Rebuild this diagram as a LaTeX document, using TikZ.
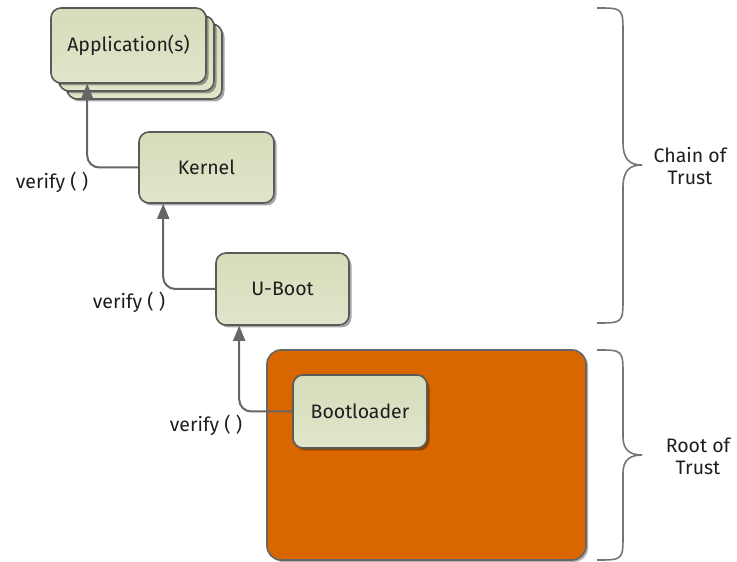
\documentclass[tikz,border=0pt]{standalone}
\usepackage{fontspec}
\setmainfont{Fira Sans}
\usetikzlibrary{shadows,arrows.meta,calc}
\definecolor{boxline}{HTML}{5A5A5A}
\definecolor{boxtop}{HTML}{D6DDBA}
\definecolor{boxmid}{HTML}{F4F6EC}
\definecolor{boxbot}{HTML}{DFE5CA}
\definecolor{rootfill}{HTML}{DA6600}
\definecolor{lncol}{HTML}{666666}
\definecolor{txt}{HTML}{1E1E1E}
\tikzset{
  box/.style={draw=boxline, line width=1.6pt, rounded corners=10pt,
    top color=boxtop, middle color=boxmid, bottom color=boxbot,
    font=\fontsize{19.5}{22}\selectfont, text=txt, inner sep=0pt,
    drop shadow={shadow xshift=2.5pt, shadow yshift=-2.5pt, opacity=0.35, fill=black}},
  conn/.style={draw=lncol, line width=2pt, rounded corners=12pt,
    -{Triangle[width=12pt,length=15pt]}},
  lbl/.style={font=\fontsize{19.5}{22}\selectfont, text=txt},
  brace/.style={draw=lncol!90, line width=1.6pt},
}
\begin{document}
\begin{tikzpicture}[x=1pt,y=1pt]
\useasboundingbox (0,0) rectangle (737,562);
% root of trust block
\node[draw=lncol, line width=1.6pt, fill=rootfill, rounded corners=14pt,
  minimum width=319pt, minimum height=210pt, inner sep=0pt,
  drop shadow={shadow xshift=2pt, shadow yshift=-2pt, opacity=0.3, fill=black}]
  (root) at (426.5,107) {};
% application stack
\node[box, minimum width=155pt, minimum height=75pt] (app3) at (144.5,500.5) {};
\node[box, minimum width=155pt, minimum height=75pt] (app2) at (136.5,508.5) {};
\node[box, minimum width=155pt, minimum height=75pt] (app) at (128.5,516.5) {Application(s)};
\node[box, minimum width=135pt, minimum height=71pt] (kern) at (206.5,394.5) {Kernel};
\node[box, minimum width=133pt, minimum height=72pt] (uboot) at (282.5,273) {U-Boot};
\node[box, minimum width=134pt, minimum height=73pt] (boot) at (360,150.5) {Bootloader};
% connectors
\draw[conn] (kern.west) -| ([xshift=37pt]app.south west);
\draw[conn] (uboot.west) -| ([xshift=25pt]kern.south west);
\draw[conn] (boot.west) -| ([xshift=24pt]uboot.south west);
% labels
\node[lbl] (v1) at (52,380) {verify ( )};
\node[lbl] (v2) at (129,260) {verify ( )};
\node[lbl] (v3) at (206,137) {verify ( )};
% braces
\draw[brace] (597,554) .. controls (623,554) .. (623,528) -- (623,420)
  .. controls (623,402) and (630,397) .. (642,397)
  .. controls (630,397) and (623,392) .. (623,374) -- (623,265)
  .. controls (623,239) .. (597,239);
\draw[brace] (597,212) .. controls (623,212) .. (623,186) -- (623,125)
  .. controls (623,112) and (630,107) .. (642,107)
  .. controls (630,107) and (623,102) .. (623,89) -- (623,28)
  .. controls (623,2) .. (597,2);
\node[lbl, align=center] (cot) at (690,396) {Chain of\\Trust};
\node[lbl, align=center] (rot) at (698,106) {Root of\\Trust};
\end{tikzpicture}
\end{document}
